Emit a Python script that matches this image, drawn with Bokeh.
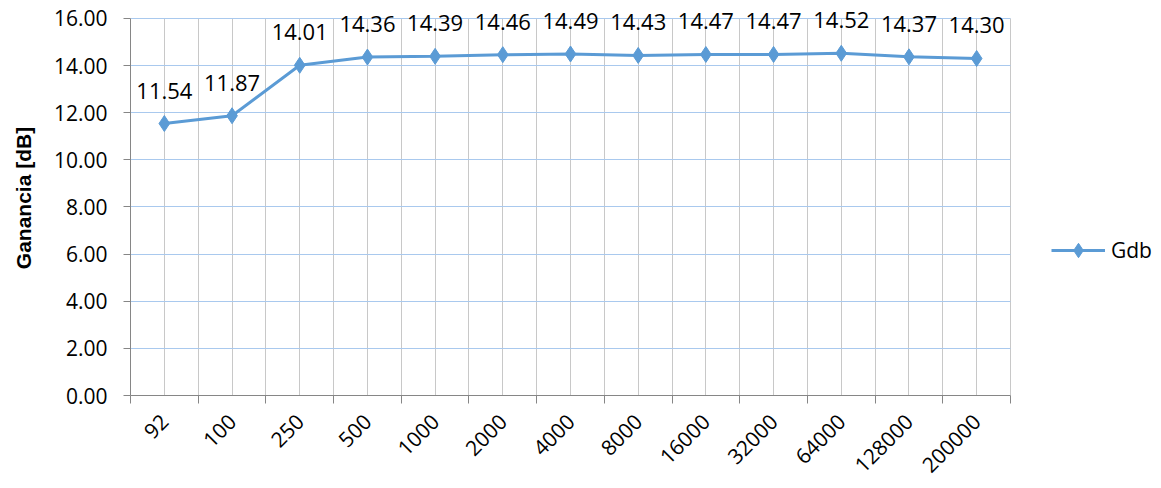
import numpy as np
from bokeh.plotting import figure
from bokeh.models import (ColumnDataSource, Range1d, FixedTicker, LabelSet,
                          Legend, LegendItem, NumeralTickFormatter)
from bokeh.core.properties import value
from bokeh.embed import file_html
from bokeh.resources import INLINE

categories = ["92", "100", "250", "500", "1000", "2000", "4000", "8000",
              "16000", "32000", "64000", "128000", "200000"]
gdb = [11.54, 11.87, 14.01, 14.36, 14.39, 14.46, 14.49, 14.43,
       14.47, 14.47, 14.52, 14.37, 14.30]
y_ticks = [0, 2, 4, 6, 8, 10, 12, 14, 16]

n = len(categories)
xpos = np.arange(n) + 0.5
src = ColumnDataSource(dict(x=xpos, y=gdb, lbl=[f"{v:.2f}" for v in gdb]))

FONT = "Open Sans"
BLUE = "#5B9BD5"

# frame spans 130..1161 px; the plotted area occupies 0..n of it (880 px)
x_end = n * 1031 / 880

p = figure(width=1161, height=488, output_backend="svg", toolbar_location=None,
           x_range=Range1d(0, x_end), y_range=Range1d(0, 16.76),
           min_border_left=130, min_border_right=0,
           min_border_top=0, min_border_bottom=93)
p.outline_line_color = None
p.background_fill_color = "white"
p.border_fill_color = "white"

# gridlines
p.xgrid.ticker = FixedTicker(ticks=list(np.arange(0, n + 0.01, 0.5)))
p.xgrid.grid_line_color = "#c8c8c8"
p.xgrid.grid_line_width = 1
p.xgrid.cross_bounds = (0, 16)
p.ygrid.ticker = FixedTicker(ticks=y_ticks)
p.ygrid.grid_line_color = "#a9c9ee"
p.ygrid.grid_line_width = 1
p.ygrid.cross_bounds = (0, n)

# x axis: labels at centres, tick marks at boundaries
xa = p.xaxis[0]
xa.bounds = (0, n)
xa.ticker = FixedTicker(ticks=list(xpos), minor_ticks=list(range(n + 1)))
xa.major_label_overrides = {float(x): c for x, c in zip(xpos, categories)}
xa.major_tick_out = 0
xa.major_tick_in = 0
xa.minor_tick_out = 8
xa.minor_tick_in = 0
xa.minor_tick_line_color = "#868686"
xa.axis_line_color = "#868686"
xa.major_label_orientation = np.pi / 4
xa.major_label_text_font = FONT
xa.major_label_text_font_size = "21px"
xa.major_label_text_color = "black"
xa.major_label_standoff = 14

# y axis
ya = p.yaxis[0]
ya.ticker = FixedTicker(ticks=y_ticks)
ya.bounds = (0, 16)
ya.formatter = NumeralTickFormatter(format="0.00")
ya.minor_tick_line_color = None
ya.major_tick_out = 7
ya.major_tick_in = 0
ya.major_tick_line_color = "#868686"
ya.axis_line_color = "#868686"
ya.major_label_text_font = FONT
ya.major_label_text_font_size = "21px"
ya.major_label_text_color = "black"
ya.major_label_standoff = 16
ya.axis_label = "Ganancia [dB]"
ya.axis_label_text_font = "Liberation Sans"
ya.axis_label_text_font_style = "bold"
ya.axis_label_text_font_size = "21px"
ya.axis_label_text_color = "black"
ya.axis_label_standoff = 16

line = p.line("x", "y", source=src, line_color=BLUE, line_width=3)
marks = p.scatter("x", "y", source=src, marker="diamond", size=16,
                  fill_color=BLUE, line_color=BLUE)

labels = LabelSet(x="x", y="y", text="lbl", source=src, y_offset=25,
                  text_align="center", text_baseline="alphabetic",
                  text_font=value(FONT), text_font_size=value("22px"),
                  text_color="black")
p.add_layout(labels)

legend = Legend(items=[LegendItem(label="Gdb", renderers=[line, marks])],
                location=(921, 127), orientation="vertical",
                glyph_width=54, glyph_height=36, label_text_font=FONT,
                label_text_font_size="21px", label_text_color="black",
                border_line_color=None, background_fill_alpha=0,
                padding=0, margin=0, label_standoff=6)
p.add_layout(legend)

open("out.html", "w").write(file_html(p, INLINE))
